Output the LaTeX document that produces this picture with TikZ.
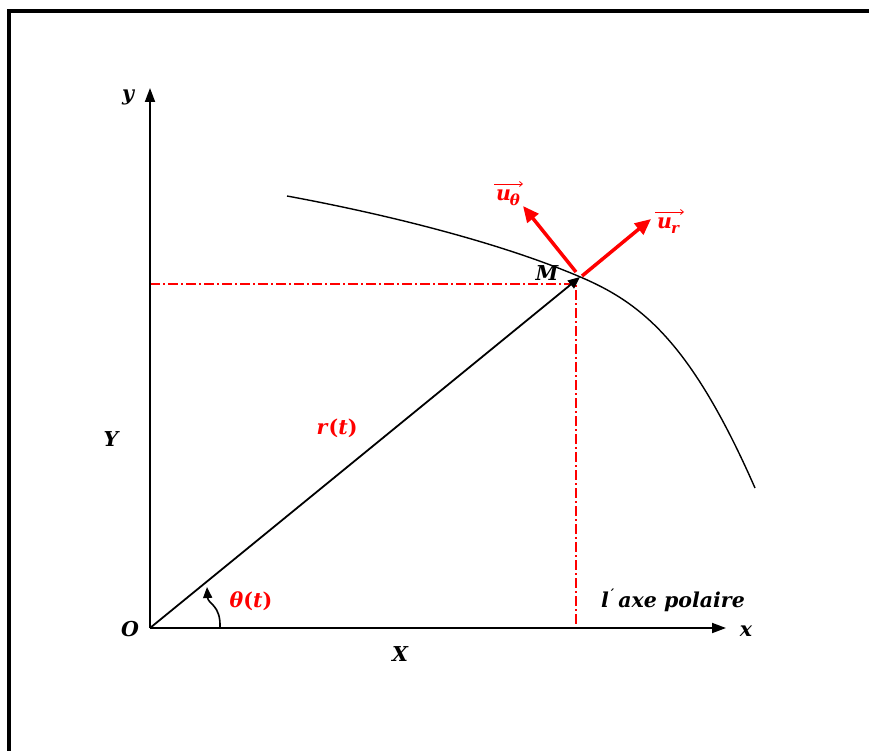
\documentclass[tikz,border=0pt]{standalone}
\usepackage{fontspec}
\setmainfont{DejaVu Serif}
\usetikzlibrary{arrows.meta}
\definecolor{vred}{RGB}{255,0,0}
\newcommand{\up}[1]{\textup{#1}}
\newcommand{\bigsub}[1]{\raisebox{-0.25em}{\fontsize{15}{15}\selectfont #1}}
\tikzset{
  lbl/.style={inner sep=0pt,font=\fontsize{20.5}{24}\selectfont\bfseries\itshape},
  axis/.style={line width=1.8pt,-{Triangle[length=14pt,width=10pt]}},
  guide/.style={vred,line width=1.2pt,dash pattern=on 10pt off 3pt on 2pt off 3pt},
  unitvec/.style={vred,line width=3.5pt,-{Triangle[length=16pt,width=14pt]}},
  vecbar/.style={vred,line width=0.8pt,-{Straight Barb[length=3pt,width=5pt]}}
}
\begin{document}
\begin{tikzpicture}[x=1pt,y=-1pt]
\useasboundingbox (0,0) rectangle (869,751);
% frame
\draw[line width=4pt] (9,760) -- (9,11) -- (880,11);
% named points
\coordinate (O) at (150,628);
\coordinate (ytip) at (150,88);
\coordinate (xtip) at (726,628);
\coordinate (M) at (580,277);
\coordinate (Hy) at (150,284);
\coordinate (Hm) at (576,284);
\coordinate (Hx) at (576,628);
\coordinate (ur) at (651,219);
\coordinate (ut) at (523,206);
\coordinate (thA) at (220,628);
\coordinate (thB) at (207,587);
% guides
\draw[guide] (Hy) -- (Hm) -- (Hx);
% axes
\draw[axis] (O) -- (ytip);
\draw[axis] (O) -- (xtip);
% trajectory
\draw[line width=1.4pt] (287,196) .. controls (390,215) and (500,243) .. (578,276)
  .. controls (640,302) and (690,340) .. (755,488);
% radius vector
\draw[line width=1.8pt,-{Triangle[length=12pt,width=10pt]}] (O) -- (M);
% angle
\draw[line width=1.6pt,-{Triangle[length=11pt,width=9pt]}] (thA) .. controls (221,605) and (208,604) .. (thB);
% unit vectors
\draw[unitvec] (582,276) -- (ur);
\draw[unitvec] (576,272) -- (ut);
% labels
\node[lbl] (ly) at (128,97) {y};
\node[lbl] (lO) at (130,629) {O};
\node[lbl] (lx) at (746,631) {x};
\node[lbl] (lX) at (400,654) {X};
\node[lbl] (lY) at (111,439) {Y};
\node[lbl] (lM) at (547,273) {M};
\node[lbl,text=vred] (lr) at (337,428) {r\up{(}t\up{)}};
\node[lbl,text=vred] (lth) at (251,601) {θ\up{(}t\up{)}};
\node[lbl] (lpol) at (673,600) {l\kern2pt\raisebox{0.45em}{\fontsize{13}{13}\selectfont′}\kern4pt axe polaire};
\node[lbl,text=vred] (lut) at (508,198) {u\kern-1pt\bigsub{θ}};
\node[lbl,text=vred] (lur) at (668,226) {u\kern-1pt\bigsub{r}};
\coordinate (utA) at (494,184);
\coordinate (utB) at (523,184);
\coordinate (urA) at (655,212);
\coordinate (urB) at (684,212);
\draw[vecbar] (utA) -- (utB);
\draw[vecbar] (urA) -- (urB);
\end{tikzpicture}
\end{document}
